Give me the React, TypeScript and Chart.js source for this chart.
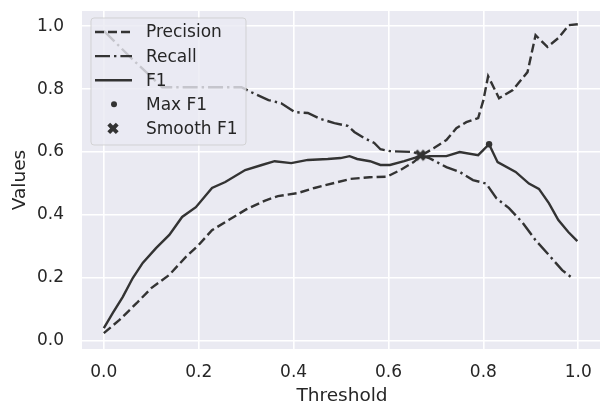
import React, { useEffect, useRef } from "react";
import { Chart, registerables } from "chart.js";

Chart.register(...registerables);

// ---------------- data ----------------
const precisionX = [0, 0.033, 0.069, 0.1, 0.138, 0.173, 0.2, 0.228, 0.263, 0.3, 0.34, 0.367, 0.409, 0.444, 0.486, 0.52, 0.56, 0.597, 0.625, 0.653, 0.67, 0.695, 0.722, 0.743, 0.764, 0.789, 0.8, 0.81, 0.833, 0.862, 0.893, 0.91, 0.935, 0.958, 0.98, 1.0];
const precisionY = [0.025, 0.067, 0.12, 0.168, 0.21, 0.267, 0.305, 0.352, 0.384, 0.418, 0.446, 0.46, 0.47, 0.486, 0.502, 0.515, 0.52, 0.522, 0.543, 0.568, 0.59, 0.612, 0.638, 0.676, 0.695, 0.708, 0.765, 0.841, 0.771, 0.797, 0.854, 0.971, 0.934, 0.962, 1.003, 1.006];

const recallX = [0, 0.06, 0.123, 0.29, 0.311, 0.347, 0.374, 0.402, 0.43, 0.457, 0.486, 0.514, 0.528, 0.549, 0.57, 0.583, 0.603, 0.653, 0.667, 0.687, 0.722, 0.75, 0.778, 0.806, 0.827, 0.854, 0.883, 0.91, 0.938, 0.966, 0.99];
const recallY = [0.985, 0.895, 0.806, 0.806, 0.79, 0.765, 0.755, 0.727, 0.724, 0.705, 0.692, 0.683, 0.664, 0.644, 0.629, 0.609, 0.603, 0.6, 0.59, 0.58, 0.552, 0.537, 0.511, 0.5, 0.454, 0.422, 0.375, 0.32, 0.273, 0.225, 0.197];

const f1X = [0, 0.019, 0.04, 0.061, 0.082, 0.11, 0.138, 0.165, 0.194, 0.228, 0.256, 0.298, 0.333, 0.36, 0.395, 0.43, 0.472, 0.499, 0.518, 0.534, 0.561, 0.583, 0.603, 0.633, 0.66, 0.687, 0.722, 0.75, 0.789, 0.812, 0.83, 0.868, 0.896, 0.917, 0.938, 0.958, 0.979, 0.998];
const f1Y = [0.041, 0.089, 0.14, 0.2, 0.248, 0.295, 0.337, 0.394, 0.425, 0.486, 0.505, 0.543, 0.559, 0.571, 0.565, 0.575, 0.578, 0.581, 0.587, 0.578, 0.571, 0.559, 0.559, 0.571, 0.584, 0.587, 0.587, 0.6, 0.59, 0.625, 0.568, 0.537, 0.5, 0.483, 0.438, 0.384, 0.346, 0.317];

const maxF1X = [0.812];
const maxF1Y = [0.625];
const smoothF1X = [0.667];
const smoothF1Y = [0.59];

const xTickValues = [0, 0.2, 0.4, 0.6, 0.8, 1.0];
const yTickValues = [0, 0.2, 0.4, 0.6, 0.8, 1.0];
const legendLabels = ["Precision", "Recall", "F1", "Max F1", "Smooth F1"];
const xTitle = "Threshold";
const yTitle = "Values";

// ---------------- styles ----------------
const LINE = "#333333";
const TEXT = "#262626";
const BG = "#EAEAF2";
const FONT = "'DejaVu Sans', sans-serif";
const DASH = [9, 4];
const DASHDOT = [15, 4, 2.4, 4];

function pts(xs: number[], ys: number[]) {
  return xs.map((x, i) => ({ x, y: ys[i] }));
}

function drawXMarker(ctx: CanvasRenderingContext2D, cx: number, cy: number, s: number) {
  const base = [[-1, -3], [-1, -1], [-3, -1], [-3, 1], [-1, 1], [-1, 3], [1, 3], [1, 1], [3, 1], [3, -1], [1, -1], [1, -3]];
  const c = Math.cos(Math.PI / 4);
  ctx.beginPath();
  base.forEach(([px, py], i) => {
    const ux = (px / 6) * s;
    const uy = (py / 6) * s;
    const rx = cx + ux * c - uy * c;
    const ry = cy + ux * c + uy * c;
    if (i === 0) ctx.moveTo(rx, ry);
    else ctx.lineTo(rx, ry);
  });
  ctx.closePath();
  ctx.fill();
}

function makeXImage(): HTMLCanvasElement {
  const cv = document.createElement("canvas");
  cv.width = 14;
  cv.height = 14;
  const ctx = cv.getContext("2d")!;
  ctx.fillStyle = LINE;
  drawXMarker(ctx, 7, 7, 12);
  return cv;
}

const bgPlugin = {
  id: "plotBg",
  beforeDraw(chart: any) {
    const { ctx, chartArea } = chart;
    ctx.save();
    ctx.fillStyle = BG;
    ctx.fillRect(chartArea.left, chartArea.top, chartArea.right - chartArea.left, chartArea.bottom - chartArea.top);
    ctx.restore();
  },
};

const legendPlugin = {
  id: "boxLegend",
  afterDraw(chart: any) {
    const ctx: CanvasRenderingContext2D = chart.ctx;
    ctx.save();
    const x0 = 91, y0 = 18, w = 155, h = 127, r = 3;
    ctx.beginPath();
    ctx.moveTo(x0 + r, y0);
    ctx.lineTo(x0 + w - r, y0);
    ctx.arcTo(x0 + w, y0, x0 + w, y0 + r, r);
    ctx.lineTo(x0 + w, y0 + h - r);
    ctx.arcTo(x0 + w, y0 + h, x0 + w - r, y0 + h, r);
    ctx.lineTo(x0 + r, y0 + h);
    ctx.arcTo(x0, y0 + h, x0, y0 + h - r, r);
    ctx.lineTo(x0, y0 + r);
    ctx.arcTo(x0, y0, x0 + r, y0, r);
    ctx.closePath();
    ctx.fillStyle = "rgba(234,234,242,0.8)";
    ctx.fill();
    ctx.strokeStyle = "rgba(204,204,204,0.8)";
    ctx.lineWidth = 1;
    ctx.stroke();

    const rowY = (i: number) => 32 + i * 24.1;
    const hx0 = 95, hx1 = 132, hc = 114;
    ctx.strokeStyle = LINE;
    ctx.lineWidth = 2.4;
    ctx.lineCap = "butt";
    const dashes = [DASH, DASHDOT, []];
    for (let i = 0; i < 3; i++) {
      ctx.setLineDash(dashes[i]);
      ctx.beginPath();
      ctx.moveTo(hx0, rowY(i));
      ctx.lineTo(hx1, rowY(i));
      ctx.stroke();
    }
    ctx.setLineDash([]);
    ctx.fillStyle = LINE;
    ctx.beginPath();
    ctx.arc(hc, rowY(3), 3, 0, Math.PI * 2);
    ctx.fill();
    drawXMarker(ctx, hc - 1, rowY(4), 12);

    ctx.fillStyle = TEXT;
    ctx.font = `17px ${FONT}`;
    ctx.textBaseline = "middle";
    ctx.textAlign = "left";
    legendLabels.forEach((t, i) => ctx.fillText(t, 146, rowY(i) + 1));
    ctx.restore();
  },
};

export default function App() {
  const ref = useRef<HTMLCanvasElement | null>(null);

  useEffect(() => {
    document.body.style.overflow = "hidden";
    const canvas = ref.current!;
    const xImg = makeXImage();
    const chart = new Chart(canvas, {
      type: "line",
      data: {
        datasets: [
          { label: legendLabels[0], data: pts(precisionX, precisionY), borderColor: LINE, borderWidth: 2.4, borderDash: DASH, borderCapStyle: "butt", pointRadius: 0, tension: 0, fill: false, order: 5 },
          { label: legendLabels[1], data: pts(recallX, recallY), borderColor: LINE, borderWidth: 2.4, borderDash: DASHDOT, borderCapStyle: "butt", pointRadius: 0, tension: 0, fill: false, order: 4 },
          { label: legendLabels[2], data: pts(f1X, f1Y), borderColor: LINE, borderWidth: 2.4, pointRadius: 0, tension: 0, fill: false, order: 3 },
          { label: legendLabels[3], data: pts(maxF1X, maxF1Y), showLine: false, pointRadius: 3.2, pointBackgroundColor: LINE, pointBorderWidth: 0, borderColor: LINE, order: 2 },
          { label: legendLabels[4], data: pts(smoothF1X, smoothF1Y), showLine: false, pointStyle: xImg as any, pointRadius: 7, borderColor: LINE, order: 1 },
        ] as any,
      },
      options: {
        animation: false,
        responsive: false,
        devicePixelRatio: window.devicePixelRatio || 1,
        layout: { padding: { left: 0, top: 11, right: 3, bottom: 0 } },
        plugins: { legend: { display: false }, tooltip: { enabled: false } },
        events: [],
        scales: {
          x: {
            type: "linear",
            min: -0.046,
            max: 1.05,
            afterBuildTicks: (s: any) => { s.ticks = xTickValues.map((v) => ({ value: v })); },
            afterFit: (s: any) => { s.height = 56; s.paddingLeft = 0; s.paddingRight = 0; s.paddingTop = 0; s.paddingBottom = 0; },
            grid: { color: "#ffffff", lineWidth: 1.6, drawTicks: false },
            border: { display: false },
            ticks: { autoSkip: false, maxRotation: 0, padding: 13, color: TEXT, font: { family: FONT, size: 17 }, callback: (v: any) => Number(v).toFixed(1) },
            title: { display: true, text: xTitle, color: TEXT, font: { family: FONT, size: 18.5, lineHeight: 1 }, padding: { top: 0, bottom: 0 } },
          },
          y: {
            type: "linear",
            min: -0.0254,
            max: 1.048,
            afterBuildTicks: (s: any) => { s.ticks = yTickValues.map((v) => ({ value: v })); },
            afterFit: (s: any) => { s.width = 82; s.paddingLeft = 0; s.paddingRight = 0; s.paddingTop = 0; s.paddingBottom = 0; },
            grid: { color: "#ffffff", lineWidth: 1.6, drawTicks: false },
            border: { display: false },
            ticks: { autoSkip: false, padding: 18, color: TEXT, font: { family: FONT, size: 17 }, callback: (v: any) => Number(v).toFixed(1) },
            title: { display: true, text: yTitle, color: TEXT, font: { family: FONT, size: 18.5, lineHeight: 1.2 }, padding: { top: 9, bottom: 0 } },
          },
        },
      } as any,
      plugins: [bgPlugin, legendPlugin],
    });
    return () => chart.destroy();
  }, []);

  return (
    <div style={{ position: "fixed", left: 0, top: 0, width: 610, height: 405, background: "#ffffff" }}>
      <canvas ref={ref} width={610} height={405} style={{ width: 610, height: 405, display: "block" }} />
    </div>
  );
}
